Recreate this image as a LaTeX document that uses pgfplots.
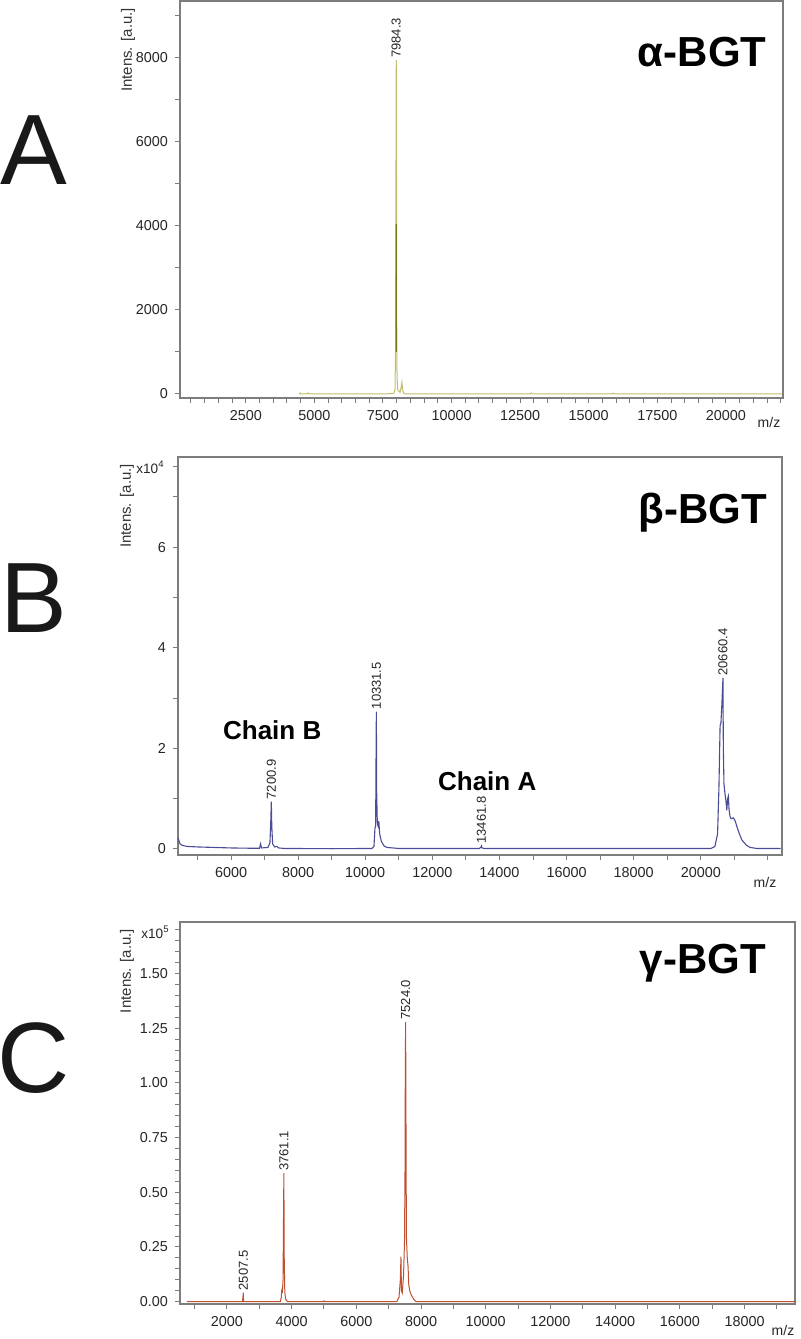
\documentclass[border=0pt]{standalone}
\usepackage{fontspec}
\setmainfont{Liberation Sans}
\usepackage{pgfplots}
\pgfplotsset{compat=1.18}
\definecolor{colA}{RGB}{190,190,110}
\definecolor{colAd}{RGB}{120,120,20}
\definecolor{colB}{RGB}{75,75,150}
\definecolor{colC}{RGB}{190,80,50}
\definecolor{framec}{RGB}{125,125,125}
\pgfplotsset{ms/.style={
  scale only axis, clip mode=individual,
  axis line style={framec, line width=0.6pt},
  tick style={framec, line width=0.5pt},
  tick align=outside, major tick length=2.5pt, minor tick length=2.5pt,
  tick pos=left,
  ticklabel style={font=\fontsize{7.2}{8}\selectfont, text=black!85},
  /pgf/number format/assume math mode=true,
  /pgf/number format/1000 sep={},
  scaled ticks=false,
}}
\tikzset{
pk/.style={rotate=90, anchor=west, inner sep=1pt, font=\fontsize{6.5}{7}\selectfont, text=black!85},
ttl/.style={anchor=base, font=\bfseries\fontsize{21}{21}\selectfont},
yl/.style={rotate=90, anchor=east, font=\fontsize{7.5}{8}\selectfont, text=black!80},
xl/.style={anchor=east, inner sep=0pt, font=\fontsize{6.8}{8}\selectfont, text=black!85},
}
\begin{document}
\begin{tikzpicture}
\useasboundingbox (0,0) rectangle (400pt,669.5pt);
% panel letters
\node[anchor=base, font=\fontsize{50}{50}\selectfont, text=black!90] at (16.75pt,577pt) {A};
\node[anchor=base, font=\fontsize{50}{50}\selectfont, text=black!90] at (16.75pt,353pt) {B};
\node[anchor=base, font=\fontsize{50}{50}\selectfont, text=black!90] at (17pt,123pt) {C};

% ---------------- Panel A
\begin{axis}[ms, at={(90pt,470.5pt)}, anchor=south west,
  width=301.5pt, height=198.5pt,
  xmin=100, xmax=22083, ymin=-95, ymax=9357,
  xtick={2500,5000,...,20000}, minor xtick={500,1000,...,22000},
  ytick={0,2000,...,8000}, minor ytick={1000,3000,...,9000}]
\addplot[colA, line width=0.5pt] coordinates {
(4450,0)(4480,25)(4500,0)(4700,5)(4780,25)(4800,0)(5500,0)(7700,0)(7760,20)(7800,5)(7900,20)(7940,120)(7960,1200)(7972,5000)(7984.3,7950)(7992,5500)(8000,1800)(8012,400)(8040,100)(8120,40)(8160,150)(8190,280)(8215,90)(8260,15)(8320,0)(12850,0)(12900,25)(12950,0)(15850,0)(15900,20)(15950,0)(22050,0)};
\addplot[colAd, line width=0.6pt] coordinates {(7980,1000)(7982,4050)};
\node[pk] at (axis cs:7984.3,7950) {7984.3};
\node[ttl] at (rel axis cs:0.866,0.834) {α-BGT};
\node[yl] at ([xshift=-26pt]rel axis cs:0,1) {Intens. [a.u.]};
\node[font=\fontsize{7}{8}\selectfont, text=black!85] at ([xshift=-7pt,yshift=-12.5pt]rel axis cs:1,0) {m/z};
\end{axis}

% ---------------- Panel B
\begin{axis}[ms, at={(89pt,242pt)}, anchor=south west,
  width=302pt, height=199pt,
  xmin=4420, xmax=22420, ymin=-0.12, ymax=7.79,
  xtick={6000,8000,10000,12000,14000,16000,18000,20000},
  minor xtick={5000,7000,9000,11000,13000,15000,17000,19000,21000,22000},
  ytick={0,2,4,6}, minor ytick={1,3,5,7,7.6}]
\addplot[colB, line width=0.55pt] coordinates {
(4420,0.22)(4440,0.18)(4480,0.10)(4550,0.07)(4700,0.05)(5000,0.04)(5500,0.03)(6000,0.02)(6500,0.015)(6850,0.015)(6880,0.1)(6910,0.02)(7100,0.03)(7160,0.12)(7185,0.55)(7200.9,0.94)(7215,0.45)(7240,0.1)(7300,0.04)(7370,0.05)(7420,0.02)(7600,0.01)(9000,0.005)(10200,0.01)(10260,0.05)(10290,0.42)(10310,0.45)(10320,1.6)(10331.5,2.73)(10340,1.15)(10360,0.5)(10385,0.45)(10405,0.55)(10430,0.3)(10480,0.15)(10560,0.06)(10650,0.03)(11000,0.01)(13400,0.01)(13440,0.03)(13461.8,0.06)(13480,0.02)(13550,0.01)(20300,0.01)(20420,0.05)(20500,0.3)(20540,1.2)(20575,2.45)(20600,2.5)(20630,2.9)(20660.4,3.40)(20672,2.0)(20690,1.3)(20720,1.1)(20750,0.95)(20775,0.77)(20800,1.0)(20823,1.05)(20840,0.8)(20870,0.65)(20900,0.6)(20970,0.62)(21030,0.55)(21073,0.45)(21150,0.3)(21222,0.18)(21350,0.08)(21470,0.03)(21670,0.01)(22380,0.01)};
\node[pk] at (axis cs:7200.9,0.94) {7200.9};
\node[pk] at (axis cs:10331.5,2.73) {10331.5};
\node[pk] at (axis cs:13461.8,0.06) {13461.8};
\node[pk] at (axis cs:20660.4,3.40) {20660.4};
\node[ttl] at (rel axis cs:0.869,0.834) {β-BGT};
\node[anchor=base, font=\bfseries\fontsize{13}{13}\selectfont] at (rel axis cs:0.156,0.289) {Chain B};
\node[anchor=base, font=\bfseries\fontsize{13}{13}\selectfont] at (rel axis cs:0.512,0.163) {Chain A};
\node[yl] at ([xshift=-25.5pt]rel axis cs:0,1) {Intens. [a.u.]};
\node[xl] at ([xshift=-6.5pt,yshift=-5pt]rel axis cs:0,1) {x10\textsuperscript{4}};
\node[font=\fontsize{7}{8}\selectfont, text=black!85] at ([xshift=-8.5pt,yshift=-14pt]rel axis cs:1,0) {m/z};
\end{axis}

% ---------------- Panel C
\begin{axis}[ms, at={(90pt,17.5pt)}, anchor=south west,
  width=307.5pt, height=191pt,
  xmin=550, xmax=19560, ymin=-0.0105, ymax=1.735,
  xtick={2000,4000,6000,8000,10000,12000,14000,16000,18000},
  minor xtick={1000,3000,5000,7000,9000,11000,13000,15000,17000,19000},
  ytick={0,0.25,0.5,0.75,1,1.25,1.5},
  minor ytick={0.05,0.1,...,1.71},
  yticklabel style={/pgf/number format/.cd, fixed, fixed zerofill, precision=2}]
\addplot[colC, line width=0.5pt] coordinates {
(760,0)(2480,0)(2495,0.02)(2507.5,0.041)(2515,0)(3650,0)(3680,0.02)(3700,0.06)(3715,0.04)(3735,0.1)(3750,0.4)(3761.1,0.587)(3772,0.2)(3790,0.04)(3820,0.01)(3870,0)(4980,0)(5000,0.004)(5020,0)(7250,0)(7320,0.02)(7360,0.1)(7380,0.206)(7395,0.05)(7420,0.04)(7460,0.12)(7490,0.28)(7505,0.6)(7515,1.1)(7524,1.278)(7532,1.0)(7540,0.59)(7550,0.29)(7575,0.2)(7600,0.16)(7620,0.08)(7650,0.05)(7700,0.03)(7780,0.01)(7850,0)(19560,0)};
\node[pk] at (axis cs:2507.5,0.041) {2507.5};
\node[pk] at (axis cs:3761.1,0.587) {3761.1};
\node[pk] at (axis cs:7524,1.278) {7524.0};
\node[ttl] at (rel axis cs:0.850,0.866) {γ-BGT};
\node[yl] at ([xshift=-26.5pt]rel axis cs:0,1) {Intens. [a.u.]};
\node[xl] at ([xshift=-5pt,yshift=-5pt]rel axis cs:0,1) {x10\textsuperscript{5}};
\node[font=\fontsize{7}{8}\selectfont, text=black!85] at ([xshift=-6pt,yshift=-13pt]rel axis cs:1,0) {m/z};
\end{axis}
\end{tikzpicture}
\end{document}
